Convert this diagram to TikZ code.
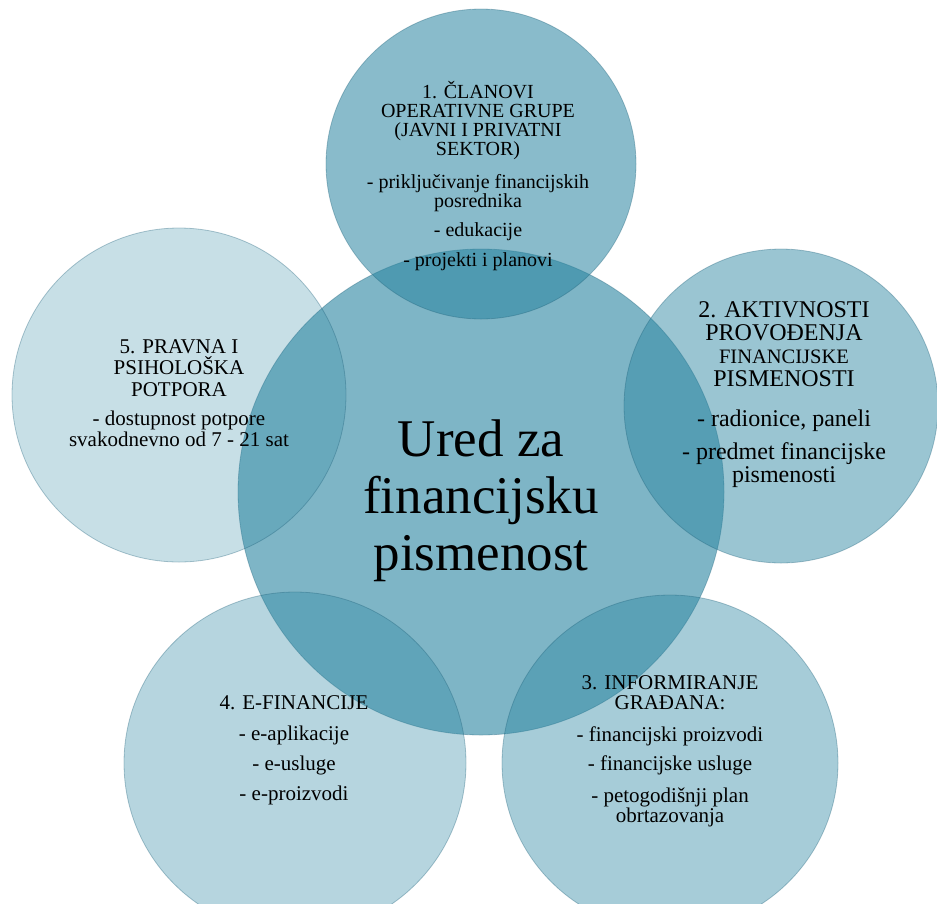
\documentclass[tikz,border=0pt]{standalone}
\usepackage{fontspec}
\setmainfont{Liberation Serif}
\definecolor{tealbase}{RGB}{40,132,160}
\definecolor{edgecol}{RGB}{30,95,120}
\tikzset{
  bubble/.style={circle, inner sep=0pt, outer sep=0pt, fill=tealbase, draw=edgecol, draw opacity=0.35, line width=0.8pt},
  lbl/.style={align=center, anchor=north, inner sep=0pt, text=black},
}
\begin{document}
\begin{tikzpicture}[x=1pt,y=-1pt]
\useasboundingbox (0,0) rectangle (937,903);
\begin{scope}
\clip (0,0) rectangle (937,903);
\node[bubble, minimum size=486pt, fill opacity=0.60] (cen) at (481,492) {};
\node[bubble, minimum size=310pt, fill opacity=0.55] (c1) at (481,164) {};
\node[bubble, minimum size=314pt, fill opacity=0.47] (c2) at (781,406) {};
\node[bubble, minimum size=336pt, fill opacity=0.41] (c3) at (670,763) {};
\node[bubble, minimum size=342pt, fill opacity=0.34] (c4) at (295,763) {};
\node[bubble, minimum size=334pt, fill opacity=0.26] (c5) at (179,395) {};
\end{scope}

\node[lbl, font=\fontsize{53}{57}\selectfont] (tc) at (481,403)
  {\rule{0pt}{1em}Ured za\\financijsku\\pismenost};

\node[lbl, font=\fontsize{20}{19}\selectfont] (t1) at (478,78)
  {\rule{0pt}{1em}1. ČLANOVI\\OPERATIVNE GRUPE\\(JAVNI I PRIVATNI\\SEKTOR)\\[14pt]- priključivanje financijskih\\posrednika\\[10pt]- edukacije\\[11pt]- projekti i planovi};

\node[lbl, font=\fontsize{24}{23}\selectfont] (t2) at (784,293)
  {\rule{0pt}{1em}2. AKTIVNOSTI\\PROVOĐENJA\\{\fontsize{20.5}{23}\selectfont FINANCIJSKE}\\PISMENOSTI\\[17pt]- radionice, paneli\\[10pt]- predmet financijske\\pismenosti};

\node[lbl, font=\fontsize{21}{20.5}\selectfont] (t3) at (670,668)
  {\rule{0pt}{1em}3. INFORMIRANJE\\GRAĐANA:\\[11pt]- financijski proizvodi\\[9pt]- financijske usluge\\[11pt]- petogodišnji plan\\obrtazovanja};

\node[lbl, font=\fontsize{21}{20.5}\selectfont] (t4) at (294,688)
  {\rule{0pt}{1em}4. E-FINANCIJE\\[11pt]- e-aplikacije\\[9pt]- e-usluge\\[9.5pt]- e-proizvodi};

\node[lbl, font=\fontsize{21}{21.5}\selectfont] (t5) at (179,332)
  {\rule{0pt}{1em}5. PRAVNA I\\PSIHOLOŠKA\\POTPORA\\[7.5pt]- dostupnost potpore\\svakodnevno od 7 - 21 sat};
\end{tikzpicture}
\end{document}
